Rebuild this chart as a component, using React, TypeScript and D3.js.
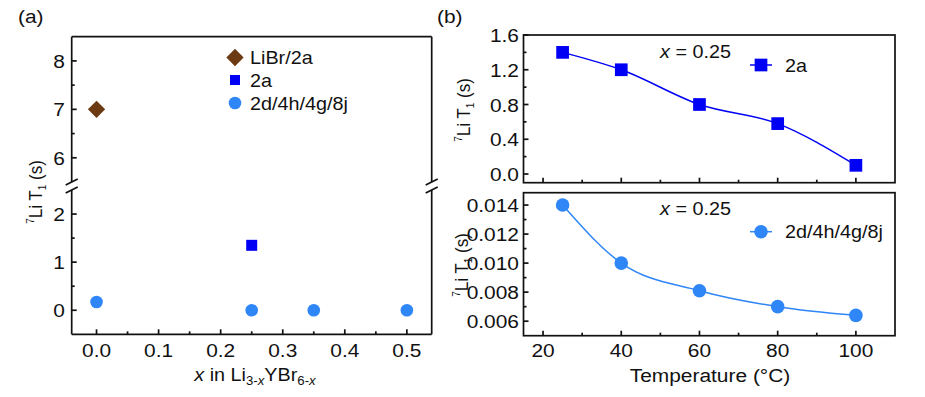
import * as d3 from "d3";

// panel (a): T1 vs composition x
const libX = [0];
const libY = [7.0];
const s2aX = [0.25];
const s2aY = [1.35];
const siteX = [0, 0.25, 0.35, 0.5];
const siteY = [0.17, 0, 0, 0];
const aXTicks = [0, 0.1, 0.2, 0.3, 0.4, 0.5];
const aHiTicks = [6, 7, 8];
const aLoTicks = [0, 1, 2];

// panel (b): T1 vs temperature at x = 0.25
const temps = [25, 40, 60, 80, 100];
const t1TwoA = [1.4, 1.2, 0.8, 0.58, 0.1];
const t1Sites = [0.014, 0.01, 0.0081, 0.007, 0.0064];
const bXTicks = [20, 40, 60, 80, 100];
const bTopTicks = [0, 0.4, 0.8, 1.2, 1.6];
const bBotTicks = [0.006, 0.008, 0.01, 0.012, 0.014];

const BROWN = "#6b3a12";
const BLUE = "#0000f5";
const LIGHT = "#2f86f6";
const FONT = "'Liberation Sans', Arial, sans-serif";
const SX = 1.1;

function T(props: {
  x: number;
  y: number;
  size?: number;
  anchor?: string;
  rotate?: boolean;
  children: any;
}) {
  const { x, y, size = 19, anchor = "start", rotate = false, children } = props;
  const tf = rotate
    ? `translate(${x},${y}) rotate(-90) scale(1,${SX})`
    : `translate(${x},${y}) scale(${SX},1)`;
  return (
    <text transform={tf} fontSize={size} textAnchor={anchor} fontFamily={FONT} fill="#111">
      {children}
    </text>
  );
}

function T1Label({ x, y }: { x: number; y: number }) {
  return (
    <T x={x} y={y} size={17} anchor="middle" rotate>
      <tspan fontSize={10} dy={-7}>7</tspan>
      <tspan dy={7}>Li T</tspan>
      <tspan fontSize={10} dy={4}>1</tspan>
      <tspan dy={-4}> (s)</tspan>
    </T>
  );
}

const diamond = d3.symbol(d3.symbolDiamond2, 190)();

function Sq({ x, y, s, fill }: { x: number; y: number; s: number; fill: string }) {
  return <rect x={x - s / 2} y={y - s / 2} width={s} height={s} fill={fill} />;
}

export default function App() {
  // ---- panel (a) scales
  const xA = d3.scaleLinear().domain([-0.04, 0.54]).range([71.7, 431.7]);
  const yHi = d3.scaleLinear().domain([5.5, 8.5]).range([182, 36.7]);
  const yLo = d3.scaleLinear().domain([-0.5, 2.5]).range([334.3, 190]);
  const aL = 71.7, aR = 431.7, aT = 36.7, aB = 334.3;

  // ---- panel (b) scales
  const xB = d3.scaleLinear().domain([15, 110]).range([523.5, 895]);
  const yTop = d3.scaleLinear().domain([-0.1, 1.6]).range([182.7, 35]);
  const yBot = d3.scaleLinear().domain([0.005, 0.01485]).range([335.7, 192.7]);
  const bL = 523.5, bR = 895;

  const lineTop = d3
    .line<number>()
    .x((_, i) => xB(temps[i]))
    .y((d) => yTop(d))
    .curve(d3.curveMonotoneX);
  const lineBot = d3
    .line<number>()
    .x((_, i) => xB(temps[i]))
    .y((d) => yBot(d))
    .curve(d3.curveMonotoneX);

  const major = 5, minor = 3;
  const stroke = { stroke: "#111", strokeWidth: 1.7, fill: "none" };

  const breakMark = (x: number, y: number) => (
    <line x1={x - 6} y1={y + 3} x2={x + 6} y2={y - 3} {...stroke} />
  );

  const xMinorA = d3.range(0.05, 0.54, 0.1);
  const xMinorB = [30, 50, 70, 90];

  return (
    <svg
      width={925}
      height={397}
      style={{ position: "absolute", left: 0, top: 0, background: "#fff" }}
    >
      <T x={18} y={23}>(a)</T>
      <T x={437} y={23}>(b)</T>

      {/* ===== panel (a) frame with broken axis ===== */}
      <line x1={aL} y1={aT} x2={aR} y2={aT} {...stroke} />
      <line x1={aL} y1={aB} x2={aR} y2={aB} {...stroke} />
      {[aL, aR].map((x) => (
        <g key={x}>
          <line x1={x} y1={aT} x2={x} y2={yHi(5.5)} {...stroke} />
          <line x1={x} y1={yLo(2.5)} x2={x} y2={aB} {...stroke} />
          {breakMark(x, yHi(5.5))}
          {breakMark(x, yLo(2.5))}
        </g>
      ))}
      {aHiTicks.map((v) => (
        <g key={"h" + v}>
          <line x1={aL} x2={aL + major} y1={yHi(v)} y2={yHi(v)} {...stroke} />
          <T x={65} y={yHi(v) + 7} anchor="end">{v}</T>
        </g>
      ))}
      {[6.5, 7.5].map((v) => (
        <line key={"hm" + v} x1={aL} x2={aL + minor} y1={yHi(v)} y2={yHi(v)} {...stroke} />
      ))}
      {aLoTicks.map((v) => (
        <g key={"l" + v}>
          <line x1={aL} x2={aL + major} y1={yLo(v)} y2={yLo(v)} {...stroke} />
          <T x={65} y={yLo(v) + 7} anchor="end">{v}</T>
        </g>
      ))}
      {[0.5, 1.5].map((v) => (
        <line key={"lm" + v} x1={aL} x2={aL + minor} y1={yLo(v)} y2={yLo(v)} {...stroke} />
      ))}
      {aXTicks.map((v) => (
        <g key={"ax" + v}>
          <line x1={xA(v)} x2={xA(v)} y1={aB} y2={aB - major} {...stroke} />
          <T x={xA(v)} y={357} anchor="middle">{v.toFixed(1)}</T>
        </g>
      ))}
      {xMinorA.map((v) => (
        <line key={"axm" + v} x1={xA(v)} x2={xA(v)} y1={aB} y2={aB - minor} {...stroke} />
      ))}
      <T x={255} y={381} anchor="middle" size={18}>
        <tspan fontStyle="italic">x</tspan>
        <tspan> in Li</tspan>
        <tspan fontSize={12} dy={4}>3-</tspan>
        <tspan fontSize={12} fontStyle="italic">x</tspan>
        <tspan dy={-4}>YBr</tspan>
        <tspan fontSize={12} dy={4}>6-</tspan>
        <tspan fontSize={12} fontStyle="italic">x</tspan>
      </T>
      <T1Label x={42} y={192} />

      {/* points (a) */}
      {libX.map((x, i) => (
        <path key={"lib" + i} d={diamond} transform={`translate(${xA(x)},${yHi(libY[i])})`} fill={BROWN} />
      ))}
      {s2aX.map((x, i) => (
        <Sq key={"s2a" + i} x={xA(x)} y={yLo(s2aY[i])} s={11} fill={BLUE} />
      ))}
      {siteX.map((x, i) => (
        <circle key={"st" + i} cx={xA(x)} cy={yLo(siteY[i])} r={6.3} fill={LIGHT} />
      ))}

      {/* legend (a) */}
      <path d={diamond} transform="translate(235,57.5)" fill={BROWN} />
      <T x={250} y={64} size={18}>LiBr/2a</T>
      <Sq x={235} y={80} s={10} fill={BLUE} />
      <T x={250} y={86.5} size={18}>2a</T>
      <circle cx={235} cy={103} r={6.3} fill={LIGHT} />
      <T x={250} y={109.5} size={18}>2d/4h/4g/8j</T>

      {/* ===== panel (b) top ===== */}
      <rect x={bL} y={35} width={bR - bL} height={182.7 - 35} {...stroke} />
      {bTopTicks.map((v) => (
        <g key={"bt" + v}>
          <line x1={bL} x2={bL + major} y1={yTop(v)} y2={yTop(v)} {...stroke} />
          <T x={519} y={yTop(v) + 7} anchor="end">{v.toFixed(1)}</T>
        </g>
      ))}
      {[0.2, 0.6, 1.0, 1.4].map((v) => (
        <line key={"btm" + v} x1={bL} x2={bL + minor} y1={yTop(v)} y2={yTop(v)} {...stroke} />
      ))}
      {bXTicks.map((v) => (
        <line key={"btx" + v} x1={xB(v)} x2={xB(v)} y1={182.7} y2={182.7 - major} {...stroke} />
      ))}
      {xMinorB.map((v) => (
        <line key={"btxm" + v} x1={xB(v)} x2={xB(v)} y1={182.7} y2={182.7 - minor} {...stroke} />
      ))}
      <path d={lineTop(t1TwoA) ?? ""} fill="none" stroke={BLUE} strokeWidth={1.5} />
      {temps.map((t, i) => (
        <Sq key={"tq" + i} x={xB(t)} y={yTop(t1TwoA[i])} s={12.7} fill={BLUE} />
      ))}
      <T x={660} y={58} size={18}>
        <tspan fontStyle="italic">x</tspan> = 0.25
      </T>
      <line x1={750} x2={772} y1={65} y2={65} stroke={BLUE} strokeWidth={1.5} />
      <Sq x={761} y={65} s={12.7} fill={BLUE} />
      <T x={785} y={71.5} size={18}>2a</T>
      <T1Label x={470} y={110} />

      {/* ===== panel (b) bottom ===== */}
      <rect x={bL} y={192.7} width={bR - bL} height={335.7 - 192.7} {...stroke} />
      <T1Label x={468} y={265} />
      {bBotTicks.map((v) => (
        <g key={"bb" + v}>
          <line x1={bL} x2={bL + major} y1={yBot(v)} y2={yBot(v)} {...stroke} />
          <T x={519} y={yBot(v) + 7} anchor="end">{v.toFixed(3)}</T>
        </g>
      ))}
      {[0.007, 0.009, 0.011, 0.013].map((v) => (
        <line key={"bbm" + v} x1={bL} x2={bL + minor} y1={yBot(v)} y2={yBot(v)} {...stroke} />
      ))}
      {bXTicks.map((v) => (
        <g key={"bbx" + v}>
          <line x1={xB(v)} x2={xB(v)} y1={335.7} y2={335.7 - major} {...stroke} />
          <T x={xB(v)} y={357} anchor="middle">{v}</T>
        </g>
      ))}
      {xMinorB.map((v) => (
        <line key={"bbxm" + v} x1={xB(v)} x2={xB(v)} y1={335.7} y2={335.7 - minor} {...stroke} />
      ))}
      <path d={lineBot(t1Sites) ?? ""} fill="none" stroke={LIGHT} strokeWidth={1.5} />
      {temps.map((t, i) => (
        <circle key={"bc" + i} cx={xB(t)} cy={yBot(t1Sites[i])} r={6.8} fill={LIGHT} />
      ))}
      <T x={660} y={215} size={18}>
        <tspan fontStyle="italic">x</tspan> = 0.25
      </T>
      <line x1={750} x2={772} y1={231.7} y2={231.7} stroke={LIGHT} strokeWidth={1.5} />
      <circle cx={761} cy={231.7} r={6.8} fill={LIGHT} />
      <T x={785} y={238} size={18}>2d/4h/4g/8j</T>
      <T x={710} y={382} anchor="middle">Temperature (°C)</T>
    </svg>
  );
}
